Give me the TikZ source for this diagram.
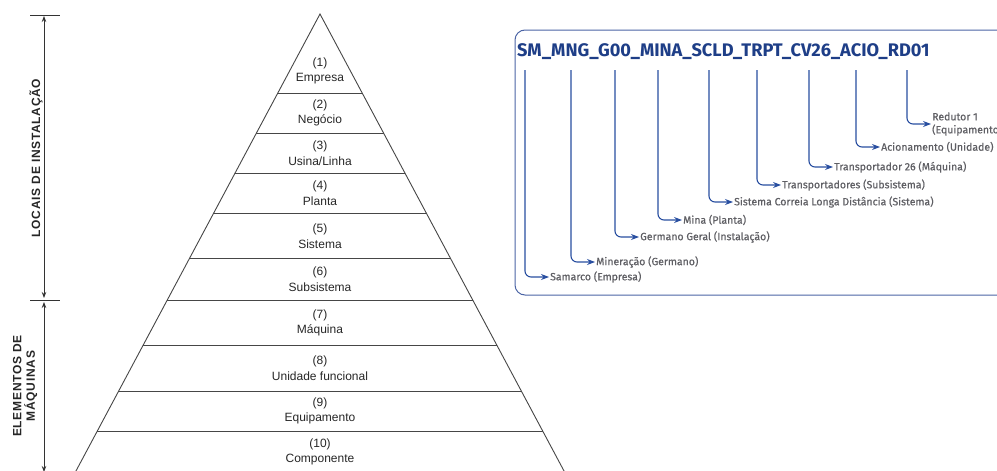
\documentclass[tikz,border=0pt]{standalone}
\usepackage{fontspec}
\setmainfont{Liberation Sans}
\newfontfamily\codefont{Fira Sans}
\newfontfamily\labfont{Fira Sans}[FakeBold=0.6]
\newfontfamily\sidefont{Liberation Sans Bold}[LetterSpace=6]
\usetikzlibrary{arrows.meta}
\definecolor{codeblue}{RGB}{30,62,135}
\definecolor{arrowblue}{RGB}{40,78,160}
\definecolor{boxblue}{RGB}{75,100,165}
\definecolor{labgray}{RGB}{95,95,100}
\definecolor{pyrgray}{RGB}{70,70,70}
\tikzset{
  pyr/.style={draw=pyrgray,line width=0.9pt},
  level/.style={align=center,inner sep=0pt,font=\fontsize{12}{15.5}\selectfont,text=black!85},
  sidelab/.style={rotate=90,align=center,font=\sidefont\fontsize{12}{13.5}\selectfont,text=black!85},
  dimline/.style={draw=black!80,line width=0.9pt},
  codelab/.style={anchor=west,align=left,inner sep=1pt,font=\labfont\fontsize{10.5}{13}\selectfont,text=labgray},
  codearr/.style={draw=arrowblue,line width=1.1pt,rounded corners=6pt,-{Stealth[length=8pt,width=6pt]}}
}
\begin{document}
\begin{tikzpicture}[x=1pt,y=-1pt,>={Stealth[length=6pt,width=4.5pt]}]
    \clip (0,0) rectangle (997,471);
    % pyramid
    \draw [pyr] ({320-0.534*466},480) -- (320,14) -- ({320+0.534*466},480);
    \foreach \y in {93,133,173,213,258,300,345,391,431}
        \draw [pyr] ({320-0.534*(\y-14)},\y) -- ({320+0.534*(\y-14)},\y);
    \foreach \n/\y/\lvname in {1/71/Empresa,2/113/Negócio,3/153/{Usina/Linha},4/193/Planta,5/236/Sistema,
                               6/279/Subsistema,7/323/Máquina,8/368/Unidade funcional,9/411/Equipamento,10/452/Componente}
        \node [level] (lv\n) at (320,\y) {(\n)\\\lvname};
    % left dimension arrows
    \coordinate (ltop) at (44,15);
    \coordinate (lmid) at (44,300);
    \coordinate (lbot) at (44,471);
    \draw [dimline] ([xshift=-14]ltop) -- ([xshift=16]ltop);
    \draw [dimline] ([xshift=-14]lmid) -- ([xshift=16]lmid);
    \draw [dimline,<->] ([yshift=-1]ltop) -- ([yshift=2]lmid);
    \draw [dimline,<->] ([yshift=-2]lmid) -- ([yshift=-1]lbot);
    \node [sidelab] (locais) at (36,158) {LOCAIS DE INSTALAÇÃO};
    \node [sidelab] (elementos) at (25,386) {ELEMENTOS DE\\MÁQUINAS};
    % code box
    \draw [boxblue,line width=1pt,rounded corners=10pt] (515,30) rectangle (1015,295);
    \node [anchor=west,inner sep=2pt,text=codeblue,font=\codefont\bfseries\fontsize{18.2}{21}\selectfont] (code) at (515,52)
        {SM\_MNG\_G00\_MINA\_SCLD\_TRPT\_CV26\_ACIO\_RD01};
    \foreach \i/\x/\y/\lab in {1/525/277/Samarco (Empresa),2/571/262/Mineração (Germano),
                               3/615/237/Germano Geral (Instalação),4/658/220/Mina (Planta),
                               5/709/202/Sistema Correia Longa Distância (Sistema),6/757/185/Transportadores (Subsistema),
                               7/809/167/Transportador 26 (Máquina),8/856/147/Acionamento (Unidade),
                               9/907/124/Redutor 1\\(Equipamento)}
    {
        \coordinate (top\i) at (\x,70);
        \node [codelab] (lab\i) at (\x+24,\y) {\lab};
        \draw [codearr] (top\i) |- (lab\i.west);
    }
\end{tikzpicture}
\end{document}
